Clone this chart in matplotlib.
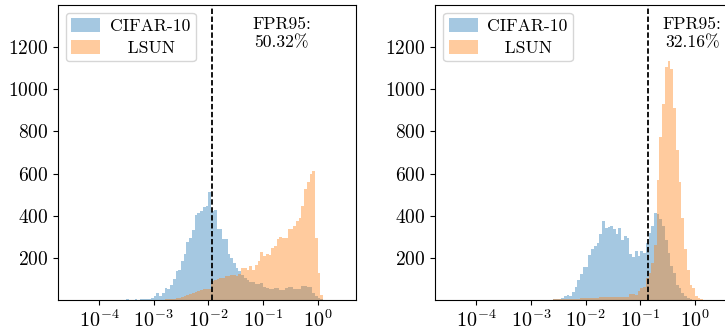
import numpy as np
import matplotlib
matplotlib.use("Agg")
import matplotlib.pyplot as plt

plt.rcParams["font.family"] = "serif"
plt.rcParams["font.serif"] = ["cmr10", "DejaVu Serif"]
plt.rcParams["mathtext.fontset"] = "cm"
plt.rcParams["axes.formatter.use_mathtext"] = True
plt.rcParams["font.size"] = 12.7
plt.rcParams["ytick.labelsize"] = 14
plt.rcParams["xtick.labelsize"] = 14.5

# log-spaced bins: 100 bins from 10^-4.5 to 10^0.5
bin_edges = np.logspace(-4.5, 0.5, 101)

# counts per bin, listed from the first non-empty bin index
left_cifar_start = 20
left_cifar = [4, 0, 0, 4, 0, 5, 6, 6, 3, 8, 19, 32, 21, 35, 57, 52, 71, 100, 138, 142,
              185, 218, 275, 293, 334, 405, 412, 424, 442, 448, 511, 421, 425, 335, 335,
              290, 290, 220, 198, 176, 150, 140, 120, 105, 95, 85, 84, 76, 76, 80,
              62, 55, 52, 52, 57, 57, 49, 49, 57, 60, 60, 52, 52, 52, 65, 68, 62, 60,
              33, 21, 8, 3]
left_lsun_start = 33
left_lsun = [2, 3, 3, 4, 5, 8, 10, 13, 18, 22, 30, 35, 40, 42, 48, 52, 50, 52, 92, 95,
             100, 104, 105, 115, 115, 120, 118, 116, 125, 150, 150, 144, 163, 144, 168,
             184, 226, 211, 220, 215, 245, 255, 290, 299, 294, 294, 339, 339, 350, 377,
             387, 448, 527, 562, 600, 610, 294, 128, 22]

right_cifar_start = 38
right_cifar = [3, 4, 5, 9, 20, 25, 20, 40, 63, 97, 122, 158, 155, 215, 244, 255, 271,
               315, 377, 344, 345, 353, 337, 313, 340, 287, 305, 293, 220, 203, 231, 207,
               234, 223, 271, 318, 353, 413, 410, 385, 350, 287, 223, 160, 128, 73, 57,
               33, 17, 8, 4, 2]
right_lsun_start = 36
right_lsun = [2, 2, 3, 3, 4, 4, 5, 5, 6, 6, 7, 7, 8, 8, 9, 10, 10, 11, 11, 12, 12,
              13, 13, 13, 13, 13, 13, 13, 13, 15, 30, 30, 25, 41, 57, 62, 104, 128, 176,
              263, 571, 773, 930, 1106, 1133, 1097, 912, 714, 559, 389, 244, 144, 73, 57,
              21, 8, 3, 2, 1]

thresholds = [0.0118, 0.136]
fpr_labels = ["FPR95:\n50.32%", "FPR95:\n32.16%"]
text_pos = [(0.75, 0.96), (0.862, 0.96)]
yticks = [200, 400, 600, 800, 1000, 1200]


def full_counts(start, vals):
    c = np.zeros(len(bin_edges) - 1)
    c[start:start + len(vals)] = vals
    return c


centers = np.sqrt(bin_edges[:-1] * bin_edges[1:])
panels = [
    (full_counts(left_cifar_start, left_cifar), full_counts(left_lsun_start, left_lsun)),
    (full_counts(right_cifar_start, right_cifar), full_counts(right_lsun_start, right_lsun)),
]

fig = plt.figure(figsize=(7.25, 3.33), dpi=100)
axes = [fig.add_axes([58 / 725, 33 / 333, 298 / 725, 295 / 333]),
        fig.add_axes([435.3 / 725, 33 / 333, 298 / 725, 295 / 333])]

for ax, (cifar, lsun), thr, lab, pos in zip(axes, panels, thresholds, fpr_labels, text_pos):
    ax.hist(centers, bins=bin_edges, weights=cifar, alpha=0.4, color="tab:blue",
            label="CIFAR-10")
    ax.hist(centers, bins=bin_edges, weights=lsun, alpha=0.4, color="tab:orange",
            label="   LSUN")
    ax.axvline(thr, color="black", linestyle=(0, (3, 1.4)), linewidth=1.3)
    ax.set_xscale("log")
    ax.set_xlim(10 ** -4.75, 10 ** 0.70)
    ax.set_ylim(0, 1400)
    ax.set_yticks(yticks)
    ax.set_xticks([1e-4, 1e-3, 1e-2, 1e-1, 1e0])
    ax.minorticks_off()
    ax.text(pos[0], pos[1], lab, transform=ax.transAxes, ha="center", va="top",
            multialignment="center")
    ax.legend(loc="upper left", handlelength=1.65, handleheight=0.8,
              handletextpad=0.55, labelspacing=0.35, borderpad=0.3,
              borderaxespad=0.45)

fig.savefig("out.png", dpi=100)
